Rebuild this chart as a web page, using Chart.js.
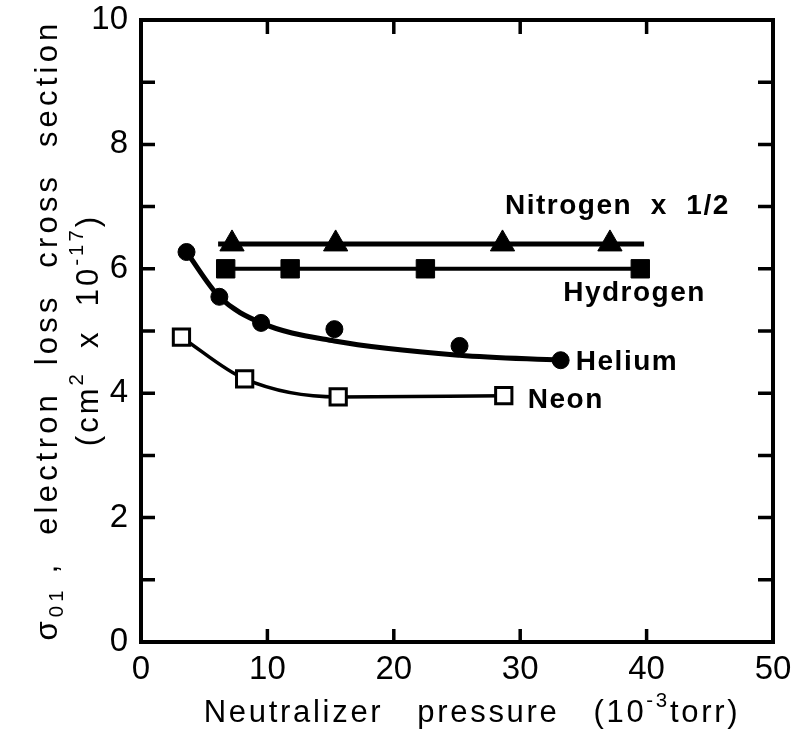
<!DOCTYPE html>
<html lang="en">
<head>
  <meta charset="UTF-8">
  <title>Electron loss cross section vs neutralizer pressure</title>
  <script src="https://cdn.jsdelivr.net/npm/chart.js"></script>
  <style>
    html, body { margin: 0; padding: 0; background: #fff; }
    #wrap { width: 812px; height: 735px; }
  </style>
</head>
<body>
  <div id="wrap"><canvas id="grafico" width="812" height="735"></canvas></div>

  <script>
  // measured points (pressure in 10^-3 torr, cross section in 10^-17 cm2)
  const nitrogenX = [7.2, 15.4, 28.6, 37.1];
  const nitrogenY = [6.4, 6.4, 6.4, 6.4];
  const nitrogenFitX = [6.1, 39.8];
  const nitrogenFitY = [6.4, 6.4];

  const hydrogenX = [6.7, 11.8, 22.5, 39.5];
  const hydrogenY = [6.0, 6.0, 6.0, 6.0];

  const heliumX = [3.6, 6.2, 9.5, 15.3, 25.2, 33.2];
  const heliumY = [6.27, 5.55, 5.13, 5.03, 4.76, 4.53];
  const heliumFitX = [3.6, 6.2, 9.5, 15.3, 25.2, 33.2];
  const heliumFitY = [6.27, 5.55, 5.13, 4.84, 4.61, 4.53];

  const neonX = [3.2, 8.2, 15.6, 28.7];
  const neonY = [4.9, 4.23, 3.94, 3.96];

  // curve labels, placed in data coordinates
  const labelTexts = ['Nitrogen  x  1/2', 'Hydrogen', 'Helium', 'Neon'];
  const labelX = [28.8, 33.4, 34.4, 30.6];
  const labelY = [7.0, 5.6, 4.49, 3.89];

  const xTicks = [0, 10, 20, 30, 40, 50];
  const yTicks = [0, 2, 4, 6, 8, 10];

  const FONT = '"Liberation Sans", Arial, sans-serif';
  const pts = (xs, ys) => xs.map((x, i) => ({ x: x, y: ys[i] }));

  // draws a run of text parts, some raised or lowered, centred on (x, y)
  function drawRich(ctx, parts, x, y, size, spacing) {
    ctx.letterSpacing = spacing + 'px';
    let total = 0;
    const widths = parts.map(p => {
      ctx.font = (p.s ? size * 0.66 : size) + 'px ' + FONT;
      const w = ctx.measureText(p.t).width;
      total += w;
      return w;
    });
    let cx = x - total / 2;
    ctx.textAlign = 'left';
    ctx.textBaseline = 'middle';
    parts.forEach((p, i) => {
      ctx.font = (p.s ? size * 0.66 : size) + 'px ' + FONT;
      const dy = p.s === 'sup' ? -size * 0.36 : p.s === 'sub' ? size * 0.3 : 0;
      ctx.fillText(p.t, cx, y + dy);
      cx += widths[i];
    });
    ctx.letterSpacing = '0px';
  }

  // frame with inward ticks, curve labels and axis titles
  const moldura = {
    id: 'moldura',
    beforeDatasetsDraw(chart) {
      const { ctx, chartArea: a, scales } = chart;
      ctx.save();
      ctx.strokeStyle = '#000';
      ctx.lineWidth = 4;
      ctx.strokeRect(a.left, a.top, a.right - a.left, a.bottom - a.top);
      ctx.lineWidth = 3.5;
      ctx.beginPath();
      for (let v = 1; v < 10; v++) {
        const py = scales.y.getPixelForValue(v);
        ctx.moveTo(a.left, py); ctx.lineTo(a.left + 14, py);
        ctx.moveTo(a.right, py); ctx.lineTo(a.right - 15, py);
      }
      for (let v = 10; v < 50; v += 10) {
        const px = scales.x.getPixelForValue(v);
        ctx.moveTo(px, a.bottom); ctx.lineTo(px, a.bottom - 13);
        ctx.moveTo(px, a.top); ctx.lineTo(px, a.top + 14);
      }
      ctx.stroke();
      ctx.restore();
    },
    afterDraw(chart) {
      const { ctx, scales } = chart;
      ctx.save();
      ctx.fillStyle = '#000';
      ctx.font = 'bold 28px ' + FONT;
      ctx.textAlign = 'left';
      ctx.textBaseline = 'middle';
      ctx.letterSpacing = '1.5px';
      labelTexts.forEach((t, i) => {
        ctx.fillText(t, scales.x.getPixelForValue(labelX[i]), scales.y.getPixelForValue(labelY[i]));
      });
      ctx.letterSpacing = '0px';

      // x axis title
      drawRich(ctx, [
        { t: 'Neutralizer   pressure   (10' },
        { t: '-3', s: 'sup' },
        { t: 'torr)' }
      ], 472, 713, 31, 2.7);

      // y axis title, two rotated lines
      ctx.translate(48, 330);
      ctx.rotate(-Math.PI / 2);
      drawRich(ctx, [
        { t: 'σ' },
        { t: '01', s: 'sub' },
        { t: ' ,  electron  loss  cross  section' }
      ], 0, 0, 31, 4.2);
      drawRich(ctx, [
        { t: '(cm' },
        { t: '2', s: 'sup' },
        { t: '  x  10' },
        { t: '-17', s: 'sup' },
        { t: ')' }
      ], 0, 41, 31, 3);
      ctx.restore();
    }
  };

  const ctxGrafico = document.getElementById('grafico').getContext('2d');

  new Chart(ctxGrafico, {
    type: 'scatter',
    data: {
      datasets: [
        {
          label: 'Nitrogen fit',
          data: pts(nitrogenFitX, nitrogenFitY),
          showLine: true, borderColor: '#000', borderWidth: 5,
          pointRadius: 0
        },
        {
          label: 'Nitrogen',
          data: pts(nitrogenX, nitrogenY),
          showLine: false, pointStyle: 'triangle', pointRadius: 14,
          backgroundColor: '#000', borderColor: '#000', borderWidth: 1
        },
        {
          label: 'Hydrogen',
          data: pts(hydrogenX, hydrogenY),
          showLine: true, borderColor: '#000', borderWidth: 4,
          pointStyle: 'rect', pointRadius: 13,
          pointBackgroundColor: '#000', pointBorderColor: '#000', pointBorderWidth: 1
        },
        {
          label: 'Helium fit',
          data: pts(heliumFitX, heliumFitY),
          showLine: true, borderColor: '#000', borderWidth: 5,
          cubicInterpolationMode: 'monotone', pointRadius: 0
        },
        {
          label: 'Helium',
          data: pts(heliumX, heliumY),
          showLine: false, pointStyle: 'circle', pointRadius: 8.5,
          backgroundColor: '#000', borderColor: '#000', borderWidth: 1
        },
        {
          label: 'Neon',
          data: pts(neonX, neonY),
          showLine: true, borderColor: '#000', borderWidth: 3.5,
          cubicInterpolationMode: 'monotone',
          pointStyle: 'rect', pointRadius: 11.5,
          pointBackgroundColor: '#fff', pointBorderColor: '#000', pointBorderWidth: 3
        }
      ]
    },
    options: {
      responsive: false,
      animation: false,
      layout: { padding: { top: 20, right: 39, left: 0, bottom: 0 } },
      plugins: { legend: { display: false }, tooltip: { enabled: false } },
      scales: {
        x: {
          type: 'linear', min: 0, max: 50,
          afterFit: s => { s.height = 93; s.paddingLeft = 0; s.paddingRight = 0; },
          afterBuildTicks: s => { s.ticks = xTicks.map(v => ({ value: v })); },
          grid: { display: false, drawTicks: false },
          border: { display: false },
          ticks: { color: '#000', padding: 8, maxRotation: 0, font: { family: FONT, size: 33 } }
        },
        y: {
          type: 'linear', min: 0, max: 10,
          afterFit: s => { s.width = 141; s.paddingTop = 0; s.paddingBottom = 0; },
          afterBuildTicks: s => { s.ticks = yTicks.map(v => ({ value: v })); },
          grid: { display: false, drawTicks: false },
          border: { display: false },
          ticks: { color: '#000', padding: 13, font: { family: FONT, size: 33 } }
        }
      }
    },
    plugins: [moldura]
  });
  </script>
</body>
</html>
